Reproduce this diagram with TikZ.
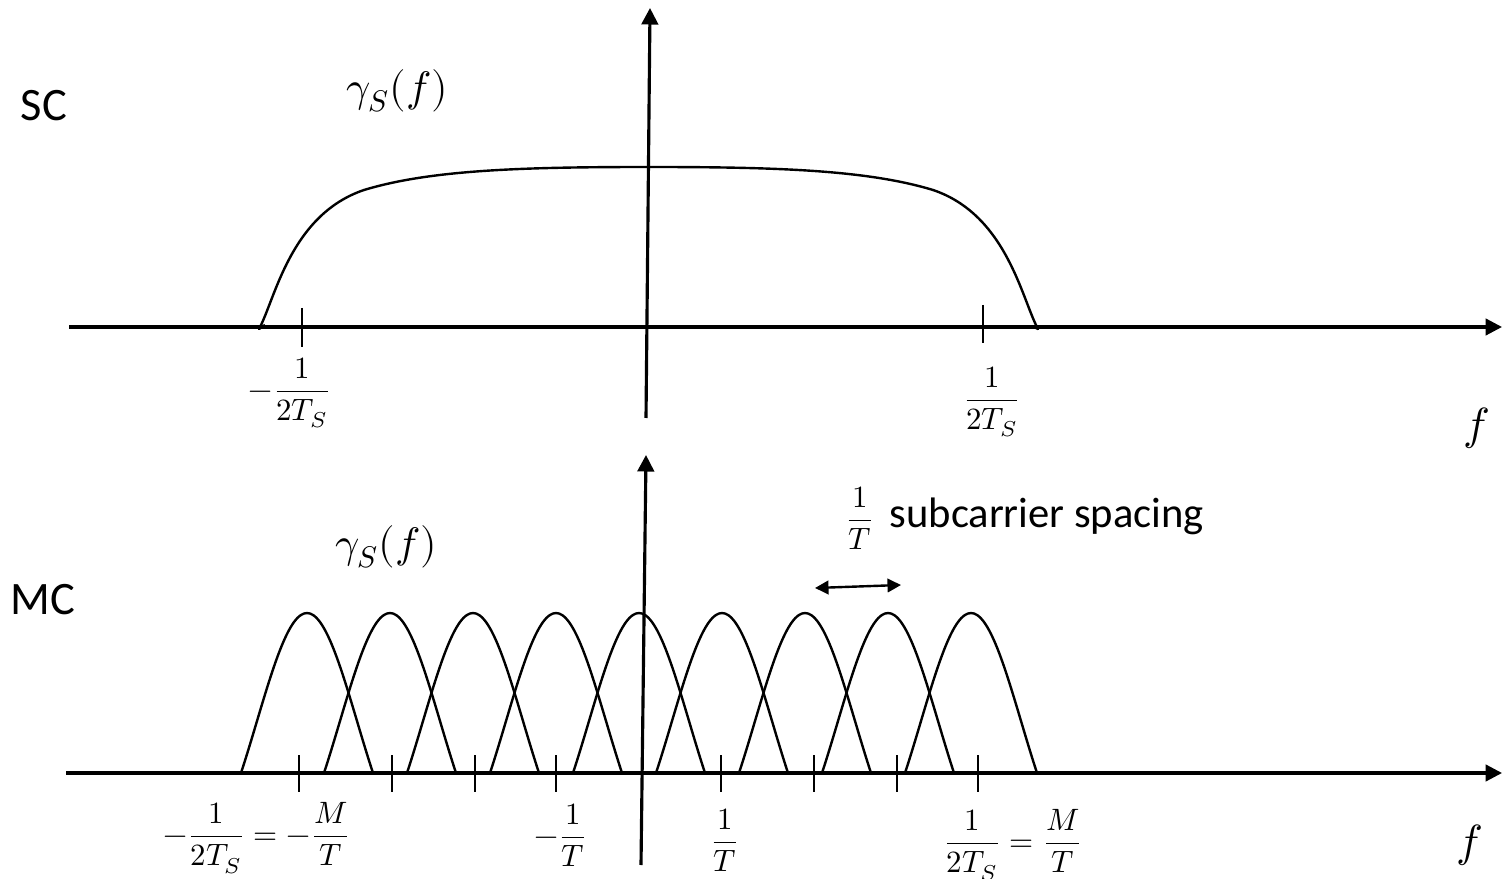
\documentclass[tikz,border=0pt]{standalone}
\usepackage{amsmath}
\usepackage{unicode-math}
\setmainfont{Carlito}
\setmathfont{Latin Modern Math}
\usetikzlibrary{arrows.meta}

\tikzset{
  axis/.style={line width=1.05pt, -{Triangle[length=5.5pt,width=5.5pt]}},
  spectrum/.style={line width=0.8pt, line join=round},
  tickmark/.style={line width=0.4pt},
  spacingarrow/.style={line width=0.8pt, {Triangle[length=4.5pt,width=4.5pt]}-{Triangle[length=4.5pt,width=4.5pt]}},
  lbl/.style={font=\fontsize{15.5}{17}\selectfont, inner sep=0pt},
  notelbl/.style={font=\fontsize{14.2}{16}\selectfont, inner sep=0pt},
  fraclbl/.style={font=\fontsize{10.3}{12}\selectfont, inner sep=0pt},
  gammalbl/.style={font=\fontsize{14.2}{16}\selectfont, inner sep=0pt},
  freqlbl/.style={font=\fontsize{15}{17}\selectfont, inner sep=0pt},
}

\begin{document}
\begin{tikzpicture}[x=0.3333pt, y=-0.3333pt]
  \useasboundingbox (0,0) rectangle (1502,879);

  % single carrier
  \coordinate (sxl) at (69,327);  \coordinate (sxr) at (1502,327);
  \coordinate (syb) at (646,418); \coordinate (syt) at (650,8);
  \draw[axis] (sxl) -- (sxr);
  \draw[axis] (syb) -- (syt);
  \draw[spectrum] (265,325) -- (259,329) .. controls (275,300) and (290,215) .. (364,190)
    .. controls (430,170) and (520,167) .. (649,167)
    .. controls (777,167) and (867,170) .. (933,190)
    .. controls (1007,215) and (1022,300) .. (1038,329) -- (1032,326);
  \draw[tickmark] (302,308) -- (302,347);
  \draw[tickmark] (983,305) -- (983,343);
  \node[lbl] (sclabel) at (44,106) {SC};
  \node[gammalbl] (scgamma) at (397,91) {$\gamma_S(f)$};
  \node[fraclbl] (sclo) at (290,393) {$-\dfrac{1}{2T_S}$};
  \node[fraclbl] (schi) at (992,402) {$\dfrac{1}{2T_S}$};
  \node[freqlbl] (scf) at (1477,428) {$f$};

  % multicarrier
  \coordinate (mxl) at (66,773);  \coordinate (mxr) at (1502,773);
  \coordinate (myb) at (641,865); \coordinate (myt) at (646,455);
  \draw[axis] (mxl) -- (mxr);
  \draw[axis] (myb) -- (myt);
  \foreach \k in {0,...,8}
    \draw[spectrum] plot[domain=-66:66, samples=41, smooth]
      ({307+83*\k+(\x)}, {773-160*(0.8*cos(90*(\x)/66)+0.2*cos(90*(\x)/66)^2)});
  \foreach \t in {299,392,475,556,721,814,897,978}
    \draw[tickmark] (\t,755) -- (\t,792);
  \node[lbl] (mclabel) at (43,600) {MC};
  \node[gammalbl] (mcgamma) at (386,547) {$\gamma_S(f)$};
  \node[fraclbl] (mclo) at (257,838) {$-\dfrac{1}{2T_S}=-\dfrac{M}{T}$};
  \node[fraclbl] (mcm1) at (561,835) {$-\dfrac{1}{T}$};
  \node[fraclbl] (mcp1) at (725,840) {$\dfrac{1}{T}$};
  \node[fraclbl] (mchi) at (1013,845) {$\dfrac{1}{2T_S}=\dfrac{M}{T}$};
  \node[freqlbl] (mcf) at (1470,845) {$f$};
  \node[fraclbl] (spcfrac) at (860,518) {$\dfrac{1}{T}$};
  \node[notelbl, anchor=base west] (spctext) at (889,528) {subcarrier spacing};
  \coordinate (spl) at (815,588); \coordinate (spr) at (901,585);
  \draw[spacingarrow] (spl) -- (spr);
\end{tikzpicture}
\end{document}
